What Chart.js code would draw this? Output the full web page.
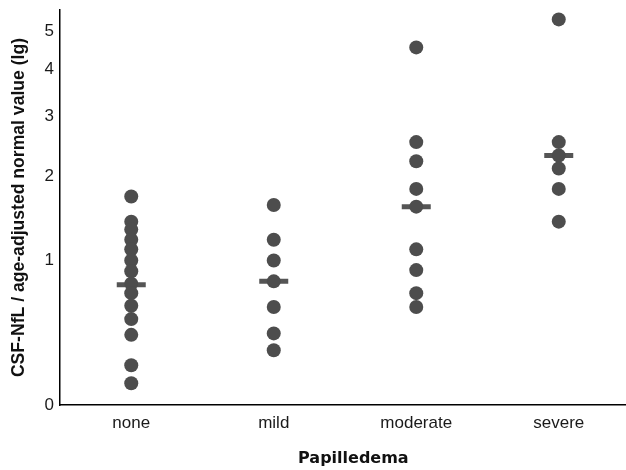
<!DOCTYPE html>
<html lang="en">
<head>
  <meta charset="UTF-8" />
  <title>CSF-NfL by papilledema grade</title>
  <script src="https://cdn.jsdelivr.net/npm/chart.js"></script>
  <style>
    html, body { margin: 0; padding: 0; background: #fff; overflow: hidden; }
    #wrap { width: 630px; height: 470px; }
  </style>
</head>
<body>
  <div id="wrap"><canvas id="nflChart" width="630" height="470"></canvas></div>

  <script>
    // values (ratio to age-adjusted normal)
    const categories = ["none", "mild", "moderate", "severe"];
    const noneValues = [1.72, 1.41, 1.32, 1.21, 1.11, 1.00, 0.90, 0.79, 0.71, 0.61, 0.51, 0.40, 0.21, 0.11];
    const mildValues = [1.61, 1.21, 1.00, 0.81, 0.60, 0.41, 0.30];
    const moderateValues = [4.56, 2.53, 2.22, 1.82, 1.59, 1.11, 0.91, 0.71, 0.60];
    const severeValues = [5.36, 2.53, 2.31, 2.11, 1.82, 1.41];
    const medians = [0.78, 0.81, 1.59, 2.31];
    const yTickLabels = [0, 1, 2, 3, 4, 5];

    // axis is lg(value + 1)
    const lg = v => Math.log10(v + 1);

    const groups = [noneValues, mildValues, moderateValues, severeValues];
    const pointData = [];
    groups.forEach((vals, i) => {
      vals.forEach(v => pointData.push({ x: categories[i], y: lg(v) }));
    });
    const medianData = medians.map((m, i) => ({ x: categories[i], y: lg(m) }));

    new Chart(document.getElementById("nflChart"), {
      type: "scatter",
      data: {
        labels: categories,
        datasets: [
          {
            data: pointData,
            backgroundColor: "#4d4d4d",
            borderWidth: 0,
            pointRadius: 7,
            pointHoverRadius: 7
          },
          {
            data: medianData,
            pointStyle: "line",
            borderColor: "#555555",
            borderWidth: 5,
            pointRadius: 14.5,
            pointHoverRadius: 14.5
          }
        ]
      },
      options: {
        responsive: false,
        animation: false,
        layout: { autoPadding: false, padding: { top: 10, right: 0, bottom: 0, left: 0 } },
        plugins: { legend: { display: false }, tooltip: { enabled: false } },
        scales: {
          x: {
            type: "category",
            labels: categories,
            offset: true,
            grid: { display: false, drawTicks: false },
            border: { display: true, color: "#000", width: 1.5 },
            ticks: { color: "#1a1a1a", padding: 8, font: { family: "Liberation Sans, Arial", size: 17 } },
            title: {
              display: true,
              text: "   Papilledema",
              color: "#111",
              padding: { top: 0, bottom: 2 },
              font: { family: "DejaVu Sans", size: 16, weight: "bold" }
            },
            afterFit: s => { s.height = 65; s.paddingLeft = 0; s.paddingRight = 0; }
          },
          y: {
            type: "linear",
            min: 0,
            max: 0.823,
            grid: { display: false, drawTicks: false },
            border: { display: true, color: "#000", width: 1.5 },
            afterBuildTicks: s => { s.ticks = yTickLabels.map(k => ({ value: lg(k) })); },
            ticks: {
              color: "#1a1a1a",
              padding: 6,
              autoSkip: false,
              font: { family: "Liberation Sans, Arial", size: 17 },
              callback: v => String(Math.round(Math.pow(10, v) - 1))
            },
            title: {
              display: true,
              text: "CSF-NfL / age-adjusted normal value (lg)",
              color: "#111",
              padding: { top: 9, bottom: 0 },
              font: { family: "Liberation Sans, Arial", size: 17.6, weight: "bold" }
            },
            afterFit: s => { s.width = 60; s.paddingTop = 0; s.paddingBottom = 0; }
          }
        }
      }
    });
  </script>
</body>
</html>
